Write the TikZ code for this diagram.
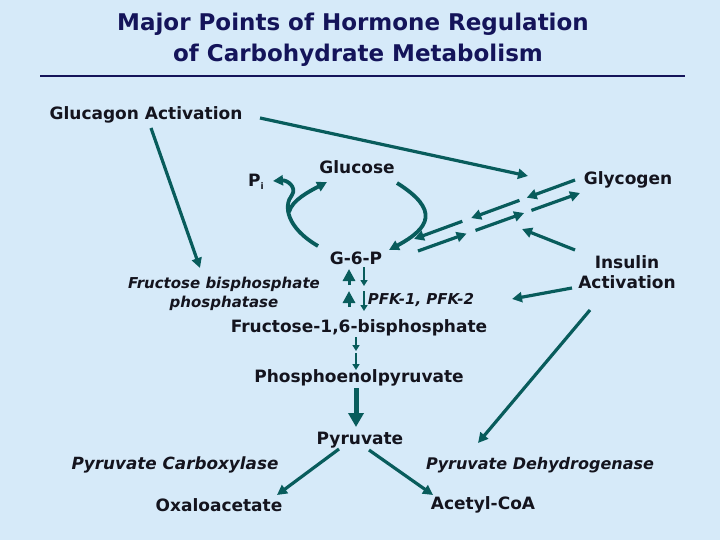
\documentclass[tikz,border=0pt]{standalone}
\usepackage{fontspec}
\setmainfont{DejaVu Sans}
\usetikzlibrary{arrows.meta,calc}
\definecolor{bg}{RGB}{214,234,249}
\definecolor{teal}{RGB}{8,92,92}
\definecolor{navy}{RGB}{20,20,90}
\definecolor{ink}{RGB}{20,20,30}
\tikzset{
  lbl/.style={inner sep=0pt, text=ink, font=\fontsize{17}{20}\selectfont\bfseries},
  enz/.style={inner sep=0pt, text=ink, font=\fontsize{16.8}{19}\selectfont\bfseries\itshape},
  enzs/.style={inner sep=0pt, text=ink, align=center, font=\fontsize{15}{19}\selectfont\bfseries\itshape},
  ttl/.style={inner sep=0pt, text=navy, font=\fontsize{23}{26}\selectfont\bfseries},
  arr/.style={draw=teal, line width=3.2pt, -{Triangle[length=10pt,width=10pt]}},
  arrs/.style={draw=teal, line width=2pt, -{Triangle[length=6pt,width=7pt]}},
}
\begin{document}
\begin{tikzpicture}[x=1pt,y=-1pt]
\fill[bg] (0,0) rectangle (720,540);
\useasboundingbox (0,0) rectangle (720,540);
% title
\node[ttl] (t1) at (353,24) {Major Points of Hormone Regulation};
\node[ttl] (t2) at (358,55) {of Carbohydrate Metabolism};
\coordinate (rl) at (40,76);
\coordinate (rr) at (685,76);
\draw[navy, line width=2.5pt] (rl) -- (rr);
% nodes
\node[lbl] (glucagon) at (146,115) {Glucagon Activation};
\node[lbl] (glucose) at (357,167) {Glucose};
\node[lbl] (pi) at (256,182) {P\raisebox{-3pt}{\fontsize{9}{9}\selectfont i}};
\node[lbl] (glycogen) at (628,180) {Glycogen};
\node[lbl] (g6p) at (356,258) {G-6-P};
\node[lbl, align=center] (insulin) at (627,272) {Insulin\\Activation};
\node[enzs] (fbpase) at (224,294) {Fructose bisphosphate\\phosphatase};
\node[enzs] (pfk) at (421,300) {PFK-1, PFK-2};
\node[lbl] (f16bp) at (359,328) {Fructose-1,6-bisphosphate};
\node[lbl] (pep) at (359,378) {Phosphoenolpyruvate};
\node[lbl] (pyr) at (360,440) {Pyruvate};
\node[enz] (pcarb) at (175,465) {Pyruvate Carboxylase};
\node[enz, font=\fontsize{16}{19}\selectfont\bfseries\itshape] (pdh) at (540,465) {Pyruvate Dehydrogenase};
\node[lbl] (oxalo) at (219,505) {Oxaloacetate};
\node[lbl] (acetyl) at (483,505) {Acetyl-CoA};
% connector endpoints
\coordinate (ga1) at (260,118);  \coordinate (ga2) at (528,176);
\coordinate (gb1) at (151,128);  \coordinate (gb2) at (200,268);
\coordinate (u0) at (575,180);   \coordinate (u3) at (414,239);
\coordinate (l0) at (418,251);   \coordinate (l3) at (580,193);
\coordinate (ia1) at (575,250);  \coordinate (ia2) at (522,229);
\coordinate (ib1) at (572,288);  \coordinate (ib2) at (512,299);
\coordinate (ic1) at (590,310);  \coordinate (ic2) at (478,443);
\coordinate (c1) at (318,246);   \coordinate (c2) at (292,195);
\coordinate (c3) at (273,181);   \coordinate (c4) at (289,212);
\coordinate (c5) at (327,182);
\coordinate (d1) at (397,183);   \coordinate (d2) at (389,250);
% glucagon
\draw[arr] (ga1) -- (ga2);
\draw[arr] (gb1) -- (gb2);
% G-6-P to glucose and Pi
\draw[arr, line width=3.8pt] (c1) .. controls (287,228) and (283,206) .. (c2) .. controls (297,187) and (287,180) .. (c3);
\draw[arr, line width=3.8pt] (c4) .. controls (292,200) and (310,191) .. (c5);
% glucose to G-6-P
\draw[arr, line width=3.8pt] (d1) .. controls (440,210) and (430,228) .. (d2);
% glycogen <-> G-6-P broken lines
\draw[arr] ($(u0)!0!(u3)$) -- ($(u0)!0.3!(u3)$);
\draw[arr] ($(u0)!0.345!(u3)$) -- ($(u0)!0.645!(u3)$);
\draw[arr] ($(u0)!0.7!(u3)$) -- ($(u0)!1!(u3)$);
\draw[arr] ($(l0)!0!(l3)$) -- ($(l0)!0.3!(l3)$);
\draw[arr] ($(l0)!0.355!(l3)$) -- ($(l0)!0.655!(l3)$);
\draw[arr] ($(l0)!0.7!(l3)$) -- ($(l0)!1!(l3)$);
% insulin
\draw[arr] (ia1) -- (ia2);
\draw[arr] (ib1) -- (ib2);
\draw[arr] (ic1) -- (ic2);
% G-6-P <-> F-1,6-BP
\draw[draw=teal, line width=3pt, -{Triangle[length=12pt,width=12pt]}] (349,285) -- (349,269);
\draw[draw=teal, line width=3pt, -{Triangle[length=12pt,width=12pt]}] (349,307) -- (349,291);
\draw[arrs] (364,267) -- (364,286);
\draw[arrs] (364,291) -- (364,311);
% F-1,6-BP to PEP
\draw[arrs, line width=2.6pt] (356,337) -- (356,351);
\draw[arrs, line width=2.6pt] (356,353) -- (356,370);
% PEP to pyruvate
\draw[draw=teal, line width=5pt, -{Triangle[length=14pt,width=15pt]}] (356,388) -- (356,427);
% pyruvate branches
\coordinate (p1) at (339,449); \coordinate (p2) at (277,495);
\coordinate (p3) at (369,450); \coordinate (p4) at (433,495);
\draw[arr] (p1) -- (p2);
\draw[arr] (p3) -- (p4);
\end{tikzpicture}
\end{document}
